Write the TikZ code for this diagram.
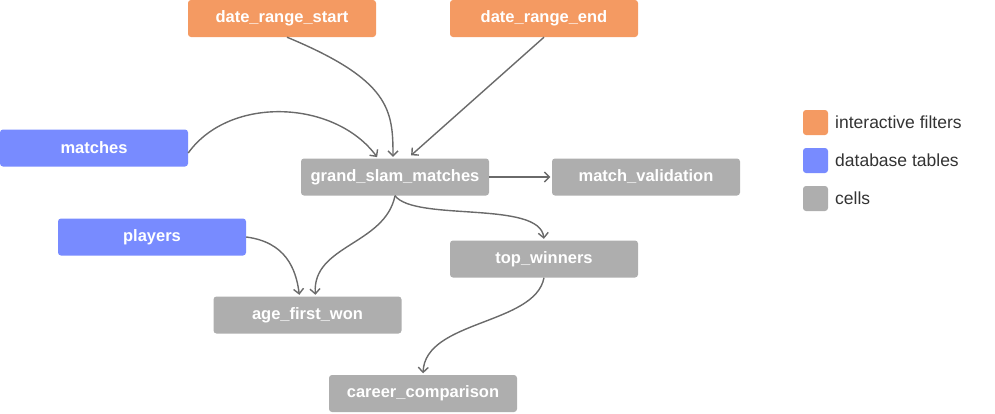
\documentclass[tikz,border=0pt]{standalone}
\usepackage{fontspec}
\setmainfont{Liberation Sans}
\usetikzlibrary{arrows.meta,calc}
\definecolor{filt}{HTML}{F49A62}
\definecolor{dbt}{HTML}{788BFF}
\definecolor{cellc}{HTML}{AEAEAE}
\definecolor{edgec}{HTML}{6A6A6A}
\definecolor{legtxt}{HTML}{333333}
\tikzset{
  box/.style={rounded corners=3pt, minimum width=188pt, minimum height=37pt, inner sep=0pt,
    text=white, font=\fontsize{16.5}{18}\selectfont\bfseries},
  filterbox/.style={box, fill=filt},
  tablebox/.style={box, fill=dbt},
  cellbox/.style={box, fill=cellc},
  conn/.style={draw=edgec, line width=1.4pt, -{Straight Barb[length=5pt,width=10pt,line width=1.4pt]}, shorten >=1.5pt},
  legsq/.style={rounded corners=3pt, minimum width=25pt, minimum height=25pt, inner sep=0pt},
  legtext/.style={anchor=west, inner sep=0pt, text=legtxt, font=\fontsize{17.5}{19}\selectfont}
}
\begin{document}
\begin{tikzpicture}[x=1pt,y=-1pt]
\useasboundingbox (0,0) rectangle (995,413);
\node[filterbox] (drs) at (282,18.5) {date\_range\_start};
\node[filterbox] (dre) at (544,18.5) {date\_range\_end};
\node[tablebox] (mat) at (94,148) {matches};
\node[cellbox] (gsm) at (395,177) {grand\_slam\_matches};
\node[cellbox] (mv) at (646,177) {match\_validation};
\node[tablebox] (pl) at (152,237) {players};
\node[cellbox] (tw) at (544,259) {top\_winners};
\node[cellbox] (afw) at (307.5,315) {age\_first\_won};
\node[cellbox] (cc) at (423,393.5) {career\_comparison};

\coordinate (gsmL) at ($(gsm.north)+(-17,0)$);
\coordinate (gsmR) at ($(gsm.north)+(15,-2)$);
\coordinate (afwL) at ($(afw.north)+(-8,0)$);
\coordinate (afwR) at ($(afw.north)+(8,0)$);
\coordinate (matR) at ($(mat.east)+(0,5)$);

\draw[conn] ($(drs.south)+(5,0)$) .. controls (390,80) and (393,110) .. ($(gsm.north)+(-2,0)$);
\draw[conn] ($(dre.south)$) -- (gsmR);
\draw[conn] (matR) .. controls (230,95) and (335,100) .. (gsmL);
\draw[conn] (gsm.east) -- (mv.west);
\draw[conn] (gsm.south) .. controls (415,222) and (540,200) .. (tw.north);
\draw[conn] (gsm.south) .. controls (385,245) and (312,245) .. (afwR);
\draw[conn] (pl.east) .. controls (285,242) and (296,268) .. (afwL);
\draw[conn] (tw.south) .. controls (535,325) and (425,320) .. (cc.north);

\node[legsq, fill=filt] (l1) at (815.5,122.5) {};
\node[legsq, fill=dbt] (l2) at (815.5,160.5) {};
\node[legsq, fill=cellc] (l3) at (815.5,198.5) {};
\node[legtext] (t1) at (835,122.5) {interactive filters};
\node[legtext] (t2) at (835,160.5) {database tables};
\node[legtext] (t3) at (835,198.5) {cells};
\end{tikzpicture}
\end{document}
